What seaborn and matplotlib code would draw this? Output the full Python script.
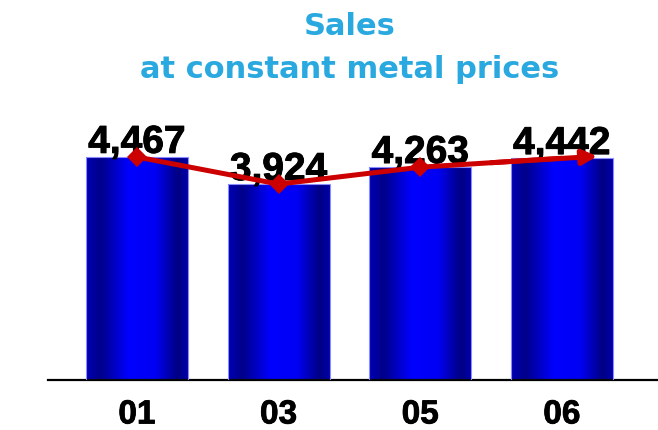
import numpy as np
import pandas as pd
import matplotlib
matplotlib.use("Agg")
import matplotlib.pyplot as plt
import matplotlib.patheffects as pe
from matplotlib.colors import LinearSegmentedColormap
import seaborn as sns

# Sales at constant metal prices, by year
years = ["01", "03", "05", "06"]
sales = [4467, 3924, 4263, 4442]
value_labels = ["4,467", "3,924", "4,263", "4,442"]

title_lines = ["Sales", "at constant metal prices"]

sns.set_style("white")
plt.rcParams["font.family"] = ["Liberation Sans", "DejaVu Sans"]

df = pd.DataFrame({"year": years, "sales": sales})

fig = plt.figure(figsize=(6.58, 4.30), dpi=100)
ax = fig.add_axes([48 / 658, 50 / 430, 610 / 658, 300 / 430])

sns.barplot(data=df, x="year", y="sales", ax=ax, width=0.72,
            color="#0000ff", saturation=1, order=years)

# cylinder-like horizontal shading on each bar
shade = LinearSegmentedColormap.from_list(
    "bar_shade", [(0.0, "#0000b4"), (0.14, "#00008a"), (0.42, "#0000ff"),
                  (0.68, "#0000f4"), (0.9, "#000084"), (1.0, "#0000a8")])
grad = np.linspace(0, 1, 256).reshape(1, -1)
for patch in ax.patches:
    x0, y0 = patch.get_x(), patch.get_y()
    w, h = patch.get_width(), patch.get_height()
    im = ax.imshow(grad, cmap=shade, aspect="auto",
                   extent=(x0, x0 + w, y0, y0 + h), zorder=2,
                   interpolation="bicubic")
    im.set_clip_path(patch)
    patch.set_facecolor("none")
    patch.set_edgecolor("#8c8cff")
    patch.set_linewidth(0.8)
    patch.set_zorder(3)

# value labels, slightly thickened
heavy = [pe.withStroke(linewidth=0.7, foreground="black")]
for p, v, lab in zip(range(len(sales)), sales, value_labels):
    ax.annotate(lab, xy=(p, v), xytext=(0, 3), textcoords="offset points",
                ha="center", va="baseline", fontsize=28,
                fontweight="bold", color="black", zorder=4,
                path_effects=heavy)

# trend line with diamond markers, ending in an arrowhead
red = "#cc0000"
pos = np.arange(len(sales))
sns.lineplot(x=pos, y=sales, ax=ax, color=red, linewidth=3.6,
             marker="D", markersize=10, markeredgewidth=0,
             markevery=list(range(len(sales) - 1)), zorder=5,
             solid_capstyle="butt")
ax.annotate("", xy=(pos[-1] + 0.25, sales[-1] + 40),
            xytext=(pos[-2] + 0.5, (sales[-2] + sales[-1]) / 2),
            arrowprops=dict(arrowstyle="-|>", color=red, lw=3.6,
                            mutation_scale=22, shrinkA=0, shrinkB=0),
            zorder=5)

ax.set_xlim(-0.628, 3.678)
ax.set_ylim(0, 300 / (223 / 4467))
ax.set_xlabel("")
ax.set_ylabel("")
ax.set_yticks([])
ax.tick_params(axis="x", length=0, pad=14)
for t in ax.get_xticklabels():
    t.set_fontsize(24)
    t.set_fontweight("bold")
    t.set_color("black")
    t.set_path_effects([pe.withStroke(linewidth=0.6, foreground="black")])

for side in ["top", "left", "right"]:
    ax.spines[side].set_visible(False)
ax.spines["bottom"].set_color("black")
ax.spines["bottom"].set_linewidth(1.6)

title_color = "#29a9df"
fig.text(350 / 658, 1 - 35 / 430, title_lines[0], ha="center",
         va="baseline", fontsize=22, fontweight="bold", color=title_color,
         family=["DejaVu Sans"])
fig.text(350 / 658, 1 - 78 / 430, title_lines[1], ha="center",
         va="baseline", fontsize=22, fontweight="bold", color=title_color,
         family=["DejaVu Sans"])

fig.savefig("out.png", dpi=100, facecolor="white")
